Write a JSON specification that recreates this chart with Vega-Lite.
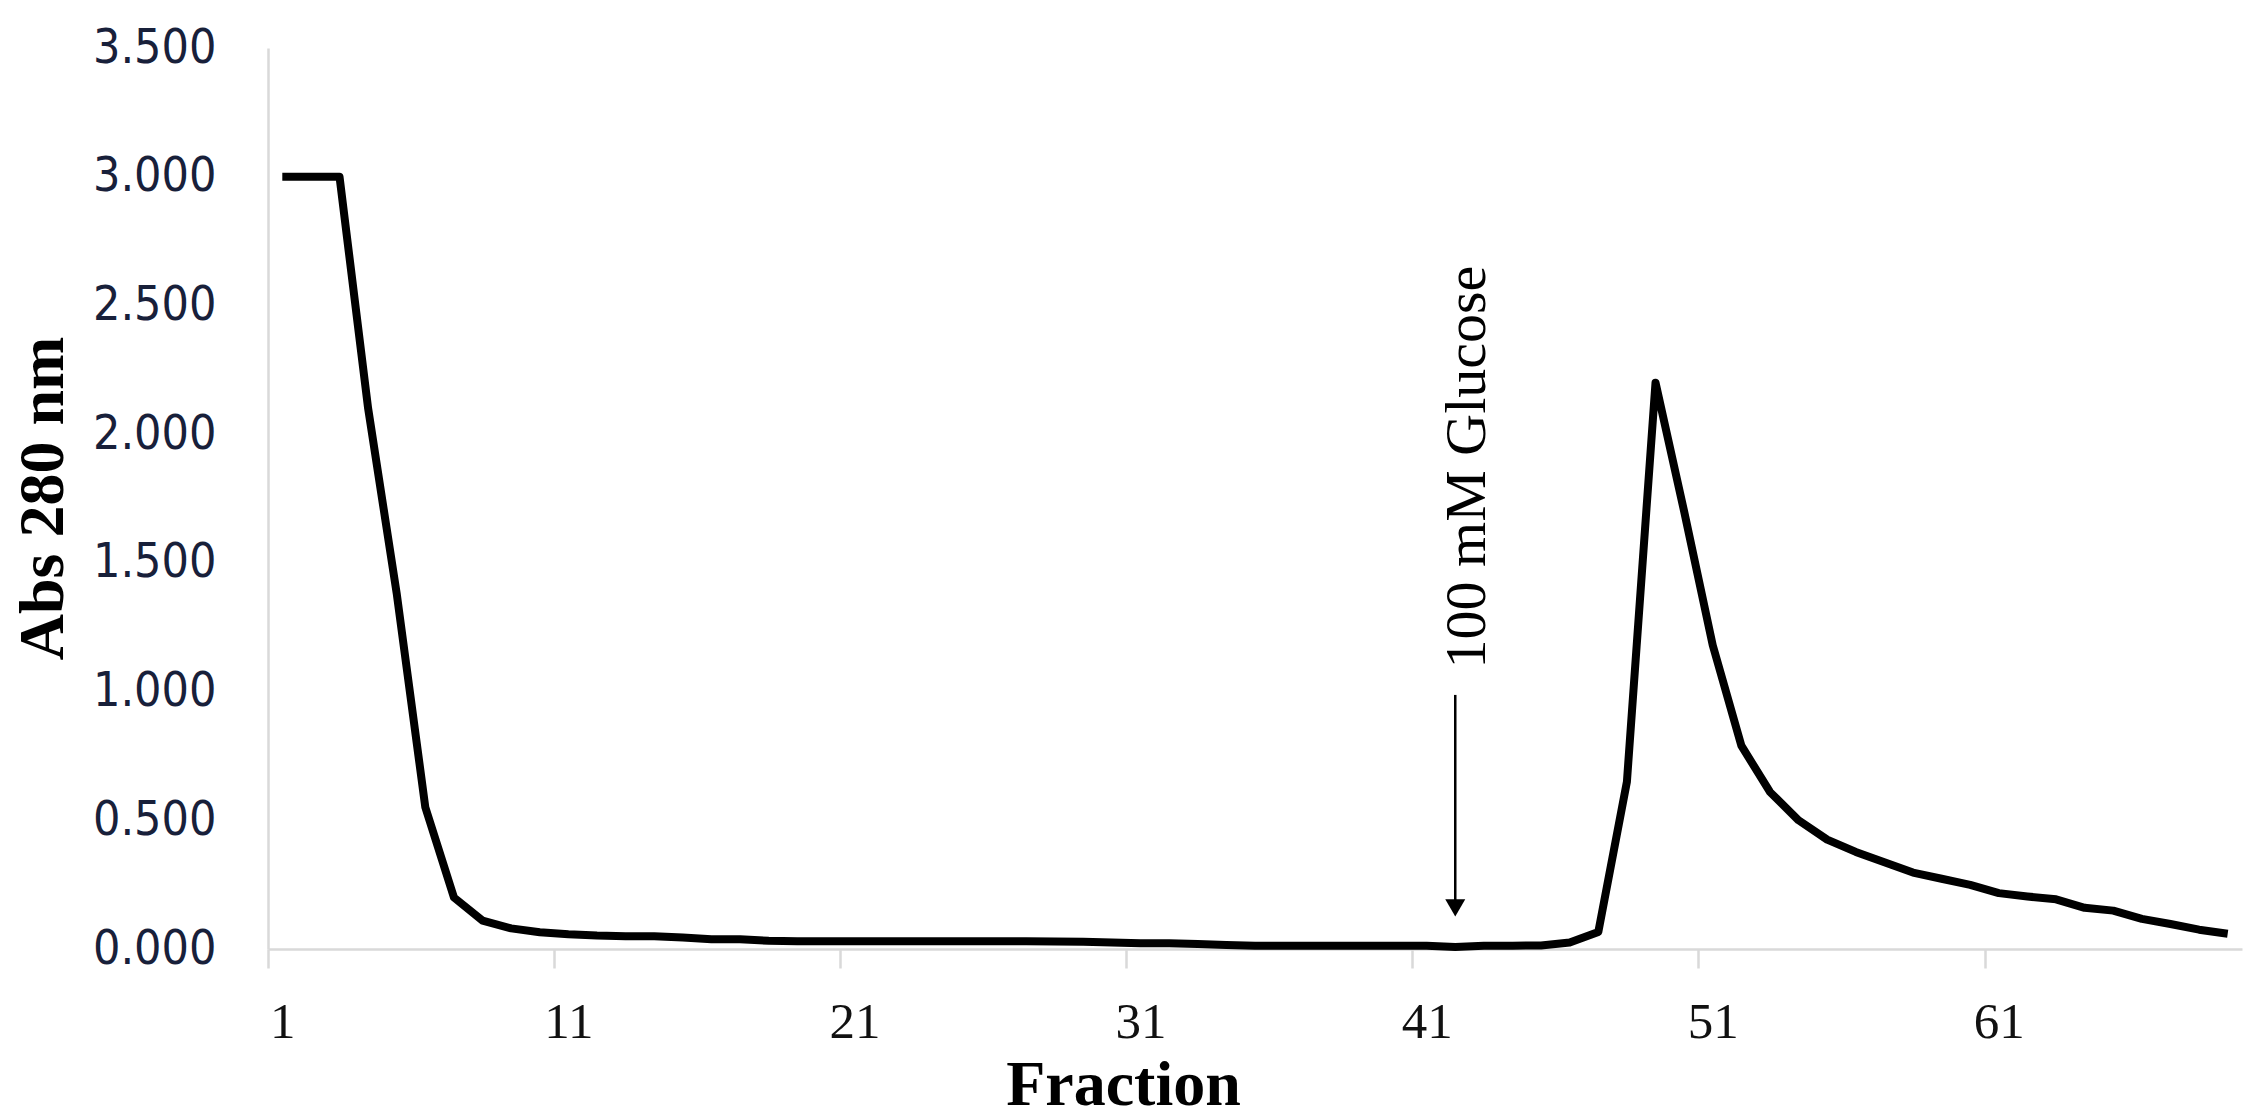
{
  "$schema": "https://vega.github.io/schema/vega-lite/v6.json",
  "autosize": "none",
  "width": 1974,
  "height": 901,
  "padding": {"left": 268, "top": 48, "right": 3, "bottom": 170},
  "background": "white",
  "config": {"view": {"stroke": null}},
  "layer": [
    {
      "data": {"values": [
        {"fraction": 1, "abs": 3.0}, {"fraction": 2, "abs": 3.0}, {"fraction": 3, "abs": 3.0},
        {"fraction": 4, "abs": 2.1}, {"fraction": 5, "abs": 1.38}, {"fraction": 6, "abs": 0.55},
        {"fraction": 7, "abs": 0.2}, {"fraction": 8, "abs": 0.11}, {"fraction": 9, "abs": 0.08},
        {"fraction": 10, "abs": 0.065}, {"fraction": 11, "abs": 0.057}, {"fraction": 12, "abs": 0.052},
        {"fraction": 13, "abs": 0.05}, {"fraction": 14, "abs": 0.05}, {"fraction": 15, "abs": 0.045},
        {"fraction": 16, "abs": 0.038}, {"fraction": 17, "abs": 0.038}, {"fraction": 18, "abs": 0.032},
        {"fraction": 19, "abs": 0.03}, {"fraction": 20, "abs": 0.03}, {"fraction": 21, "abs": 0.03},
        {"fraction": 22, "abs": 0.03}, {"fraction": 23, "abs": 0.03}, {"fraction": 24, "abs": 0.03},
        {"fraction": 25, "abs": 0.03}, {"fraction": 26, "abs": 0.03}, {"fraction": 27, "abs": 0.03},
        {"fraction": 28, "abs": 0.029}, {"fraction": 29, "abs": 0.028}, {"fraction": 30, "abs": 0.025},
        {"fraction": 31, "abs": 0.022}, {"fraction": 32, "abs": 0.022}, {"fraction": 33, "abs": 0.019},
        {"fraction": 34, "abs": 0.016}, {"fraction": 35, "abs": 0.013}, {"fraction": 36, "abs": 0.013},
        {"fraction": 37, "abs": 0.013}, {"fraction": 38, "abs": 0.013}, {"fraction": 39, "abs": 0.013},
        {"fraction": 40, "abs": 0.013}, {"fraction": 41, "abs": 0.013}, {"fraction": 42, "abs": 0.008},
        {"fraction": 43, "abs": 0.013}, {"fraction": 44, "abs": 0.013}, {"fraction": 45, "abs": 0.014},
        {"fraction": 46, "abs": 0.025}, {"fraction": 47, "abs": 0.066}, {"fraction": 48, "abs": 0.65},
        {"fraction": 49, "abs": 2.2}, {"fraction": 50, "abs": 1.7}, {"fraction": 51, "abs": 1.18},
        {"fraction": 52, "abs": 0.79}, {"fraction": 53, "abs": 0.61}, {"fraction": 54, "abs": 0.5},
        {"fraction": 55, "abs": 0.425}, {"fraction": 56, "abs": 0.377}, {"fraction": 57, "abs": 0.337},
        {"fraction": 58, "abs": 0.297}, {"fraction": 59, "abs": 0.273}, {"fraction": 60, "abs": 0.249},
        {"fraction": 61, "abs": 0.217}, {"fraction": 62, "abs": 0.204}, {"fraction": 63, "abs": 0.193},
        {"fraction": 64, "abs": 0.16}, {"fraction": 65, "abs": 0.149}, {"fraction": 66, "abs": 0.117},
        {"fraction": 67, "abs": 0.097}, {"fraction": 68, "abs": 0.075}, {"fraction": 69, "abs": 0.059}
      ]},
      "mark": {"type": "line", "color": "black", "strokeWidth": 8, "strokeJoin": "round", "strokeCap": "butt"},
      "encoding": {
        "x": {
          "field": "fraction", "type": "quantitative",
          "scale": {"domain": [0.5, 69.5], "nice": false, "zero": false},
          "axis": {
            "title": "Fraction",
            "values": [0.5, 10.5, 20.5, 30.5, 40.5, 50.5, 60.5],
            "labelExpr": "format(datum.value + 0.5, 'd')",
            "labelOffset": 14.3,
            "labelFlush": false,
            "labelOverlap": false,
            "labelFont": "Liberation Serif",
            "labelFontSize": 51,
            "labelColor": "#111111",
            "labelPadding": 29,
            "grid": false,
            "ticks": true,
            "tickSize": 19,
            "tickColor": "#d9d9d9",
            "tickWidth": 2.5,
            "domainColor": "#d9d9d9",
            "domainWidth": 2.5,
            "titleFont": "Liberation Serif",
            "titleFontWeight": "bold",
            "titleFontSize": 64,
            "titleColor": "black",
            "titleX": 855,
            "titleY": 155,
            "titleAlign": "center",
            "titleBaseline": "alphabetic"
          }
        },
        "y": {
          "field": "abs", "type": "quantitative",
          "scale": {"domain": [0, 3.5], "nice": false},
          "axis": {
            "title": "Abs 280 nm",
            "values": [0, 0.5, 1, 1.5, 2, 2.5, 3, 3.5],
            "format": ".3f",
            "labelFont": "DejaVu Sans Condensed, DejaVu Sans",
            "labelFontSize": 48,
            "labelColor": "#18203a",
            "labelPadding": 52,
            "grid": false,
            "ticks": false,
            "domainColor": "#d9d9d9",
            "domainWidth": 2.5,
            "titleFont": "Liberation Serif",
            "titleFontWeight": "bold",
            "titleFontSize": 64,
            "titleColor": "black",
            "titleAngle": 270,
            "titleX": -206,
            "titleY": 450,
            "titleAlign": "center",
            "titleBaseline": "alphabetic"
          }
        }
      }
    },
    {
      "data": {"values": [{"fraction": 42, "y1": 0.16, "y2": 0.987}]},
      "mark": {"type": "rule", "color": "black", "strokeWidth": 2.5},
      "encoding": {
        "x": {"field": "fraction", "type": "quantitative"},
        "y": {"field": "y1", "type": "quantitative"},
        "y2": {"field": "y2"}
      }
    },
    {
      "data": {"values": [{"fraction": 42, "y": 0.16}]},
      "mark": {"type": "point", "shape": "triangle-down", "filled": true, "color": "black", "size": 400, "opacity": 1},
      "encoding": {
        "x": {"field": "fraction", "type": "quantitative"},
        "y": {"field": "y", "type": "quantitative"}
      }
    },
    {
      "data": {"values": [{"fraction": 43.04, "y": 1.09, "label": "100 mM Glucose"}]},
      "mark": {"type": "text", "angle": 270, "align": "left", "baseline": "alphabetic", "font": "Liberation Serif", "fontSize": 58, "color": "black"},
      "encoding": {
        "x": {"field": "fraction", "type": "quantitative"},
        "y": {"field": "y", "type": "quantitative"},
        "text": {"field": "label"}
      }
    }
  ]
}
